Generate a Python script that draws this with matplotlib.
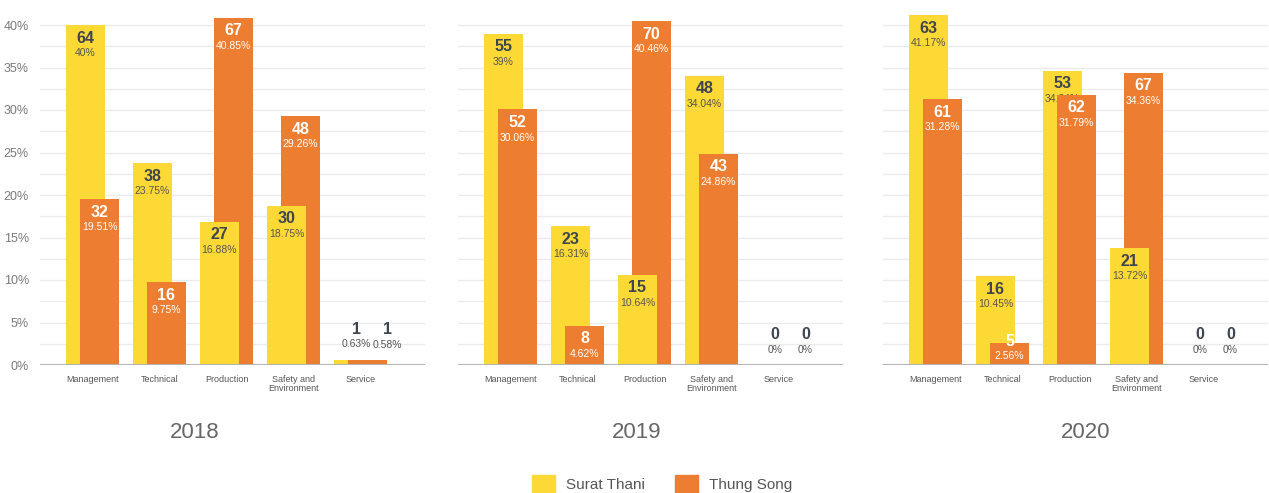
import numpy as np
import matplotlib
matplotlib.use("Agg")
import matplotlib.pyplot as plt
from matplotlib.patches import Patch

plt.rcParams['font.family'] = ['Liberation Sans', 'DejaVu Sans']

categories = ['Management', 'Technical', 'Production', 'Safety and\nEnvironment', 'Service']
years = ['2018', '2019', '2020']

surat_n_2018 = [64, 38, 27, 30, 1]
surat_pct_2018 = [40, 23.75, 16.88, 18.75, 0.63]
thung_n_2018 = [32, 16, 67, 48, 1]
thung_pct_2018 = [19.51, 9.75, 40.85, 29.26, 0.58]

surat_n_2019 = [55, 23, 15, 48, 0]
surat_pct_2019 = [39, 16.31, 10.64, 34.04, 0]
thung_n_2019 = [52, 8, 70, 43, 0]
thung_pct_2019 = [30.06, 4.62, 40.46, 24.86, 0]

surat_n_2020 = [63, 16, 53, 21, 0]
surat_pct_2020 = [41.17, 10.45, 34.64, 13.72, 0]
thung_n_2020 = [61, 5, 62, 67, 0]
thung_pct_2020 = [31.28, 2.56, 31.79, 34.36, 0]

panels = [
    (surat_n_2018, surat_pct_2018, thung_n_2018, thung_pct_2018),
    (surat_n_2019, surat_pct_2019, thung_n_2019, thung_pct_2019),
    (surat_n_2020, surat_pct_2020, thung_n_2020, thung_pct_2020),
]

YELLOW = '#fdd935'
ORANGE = '#ed7d31'
DARK = '#3e4450'

W, H = 1269, 493
fig = plt.figure(figsize=(W / 100, H / 100), dpi=100)

lefts = [40, 458, 883]
ax_w = 385
bottom_px = 365
top_px = 4
width = 0.58
shift = 0.21
x = np.arange(len(categories))


def put_label(ax, xi, n, p, color_n, color_p, z, small_dx):
    ptxt = f"{p:g}%"
    if p < 1.5:
        # tiny bars: labels sit above the bar
        ax.annotate(str(n), (xi + small_dx, p), xytext=(0, 22), textcoords='offset points',
                    ha='center', va='center', fontsize=11.5, fontweight='bold',
                    color=DARK, zorder=z)
        ax.annotate(ptxt, (xi + small_dx, p), xytext=(0, 11), textcoords='offset points',
                    ha='center', va='center', fontsize=7.5, color='#555555', zorder=z)
        return
    bar_px = p * 8.5
    off_n = -9.4
    off_p = -20.2
    # keep the percentage inside short bars
    lowest = -(bar_px - 9) * 0.72
    if off_p < lowest:
        off_n += lowest - off_p
        off_p = lowest
    ax.annotate(str(n), (xi, p), xytext=(0, off_n), textcoords='offset points',
                ha='center', va='center', fontsize=11.5, fontweight='bold',
                color=color_n, zorder=z)
    ax.annotate(ptxt, (xi, p), xytext=(0, off_p), textcoords='offset points',
                ha='center', va='center', fontsize=7.5, color=color_p, zorder=z)


for k, (sn, sp, tn, tp) in enumerate(panels):
    ax = fig.add_axes([lefts[k] / W, (H - bottom_px) / H, ax_w / W, (bottom_px - top_px) / H])
    ymax = (bottom_px - top_px) / 8.5
    ax.set_ylim(0, ymax)
    xl = -width / 2 - 26 / 67
    ax.set_xlim(xl, xl + ax_w / 67)

    for g in np.arange(2.5, 40.1, 2.5):
        ax.axhline(g, color='#ebebeb', lw=1, zorder=0)
    ax.axhline(0, color='#b5b5b5', lw=2.2, zorder=20, xmax=388 / ax_w if k == 0 else 1)

    ybars = ax.bar(x, sp, width, color=YELLOW)
    obars = ax.bar(x + shift, tp, width, color=ORANGE)
    # the shorter bar of each pair sits in front
    for i in range(len(categories)):
        zy, zo = (4, 2) if sp[i] < tp[i] else (2, 4)
        ybars[i].set_zorder(zy)
        obars[i].set_zorder(zo)
        put_label(ax, x[i], sn[i], sp[i], DARK, '#555555', zy + 0.5, 0.05)
        put_label(ax, x[i] + shift, tn[i], tp[i], 'white', 'white', zo + 0.5, 0.3)

    for s in ax.spines.values():
        s.set_visible(False)
    ax.set_xticks(x + shift / 2)
    ax.set_xticklabels(categories, fontsize=6.5, color='#555555', linespacing=1.1)
    ax.tick_params(axis='x', length=0, pad=7)
    if k == 0:
        ax.set_yticks(np.arange(0, 41, 5))
        ax.set_yticklabels([f"{v}%" for v in range(0, 41, 5)], fontsize=9, color='#7a7a7a')
        ax.tick_params(axis='y', length=0, pad=8)
    else:
        ax.set_yticks([])
    ax.set_facecolor('none')

year_x = [195, 637, 1086]
for yx, yr in zip(year_x, years):
    fig.text(yx / W, (H - 433) / H, yr, ha='center', va='center', fontsize=16, color='#666666')

handles = [Patch(color=YELLOW, label='Surat Thani'), Patch(color=ORANGE, label='Thung Song')]
fig.legend(handles=handles, loc='center', bbox_to_anchor=(662 / W, (H - 484) / H), ncol=2,
           frameon=False, fontsize=11, handlelength=1.5, handleheight=1.5,
           handletextpad=0.7, columnspacing=2.0, labelcolor='#555555')

fig.savefig('out.png', dpi=100)
